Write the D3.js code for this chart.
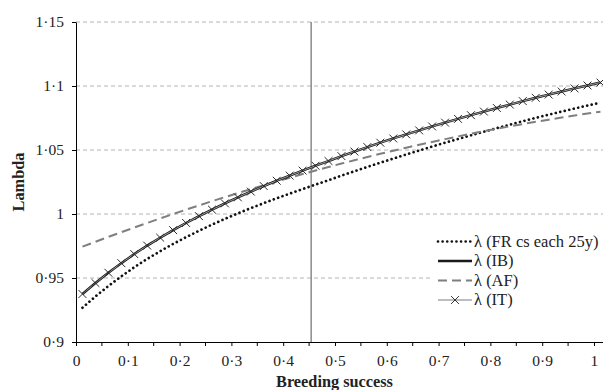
<!DOCTYPE html>
<html lang="en">
<head>
<meta charset="UTF-8">
<title>Lambda vs breeding success</title>
<script src="https://d3js.org/d3.v7.min.js"></script>
<style>
    body { margin: 0; background: #fff; }
    text { font-family: "Liberation Serif", "Times New Roman", serif; fill: #222; }
    .axis path, .axis line { stroke: #000; stroke-width: 1px; }
    .axis text { font-size: 15.5px; }
    .grid { stroke: #b4b4b4; stroke-width: 1px; stroke-dasharray: 4 3; }
    .title { font-size: 16.3px; font-weight: bold; }
    .legend text { font-size: 16.5px; }
</style>
</head>
<body>
<svg width="603" height="390"></svg>
<script>
    // breeding success (x) for each point
    const breeding = [0.0125,0.0375,0.0625,0.0875,0.1125,0.1375,0.1625,0.1875,0.2125,0.2375,
        0.2625,0.2875,0.3125,0.3375,0.3625,0.3875,0.4125,0.4375,0.4625,0.4875,
        0.5125,0.5375,0.5625,0.5875,0.6125,0.6375,0.6625,0.6875,0.7125,0.7375,
        0.7625,0.7875,0.8125,0.8375,0.8625,0.8875,0.9125,0.9375,0.9625,0.9875,1.0125];

    const lamFR = [0.9268,0.9356,0.9437,0.9513,0.9584,0.9649,0.9709,0.9766,0.9819,0.9869,
        0.9917,0.9962,1.0005,1.0046,1.0085,1.0123,1.0159,1.0195,1.0230,1.0264,
        1.0300,1.0334,1.0368,1.0401,1.0433,1.0465,1.0496,1.0527,1.0557,1.0586,
        1.0615,1.0643,1.0671,1.0698,1.0725,1.0751,1.0776,1.0800,1.0824,1.0847,1.0870];

    const lamIB = [0.9375,0.9461,0.9541,0.9616,0.9687,0.9753,0.9815,0.9874,0.9930,0.9983,
        1.0034,1.0083,1.0130,1.0175,1.0218,1.0260,1.0300,1.0339,1.0377,1.0414,
        1.0452,1.0488,1.0523,1.0557,1.0590,1.0622,1.0653,1.0684,1.0714,1.0743,
        1.0772,1.0800,1.0828,1.0855,1.0882,1.0908,1.0933,1.0957,1.0981,1.1004,1.1027];

    const lamAF = [0.9745,0.9783,0.9821,0.9858,0.9894,0.9930,0.9965,1.0000,1.0034,1.0067,
        1.0100,1.0132,1.0163,1.0194,1.0225,1.0254,1.0283,1.0312,1.0340,1.0367,
        1.0394,1.0420,1.0445,1.0470,1.0494,1.0518,1.0541,1.0563,1.0585,1.0606,
        1.0627,1.0647,1.0666,1.0685,1.0703,1.0720,1.0737,1.0754,1.0769,1.0785,1.0799];

    const lamIT = [0.9375,0.9461,0.9541,0.9616,0.9687,0.9753,0.9815,0.9874,0.9930,0.9983,
        1.0034,1.0083,1.0130,1.0175,1.0218,1.0260,1.0300,1.0339,1.0377,1.0414,
        1.0452,1.0488,1.0523,1.0557,1.0590,1.0622,1.0653,1.0684,1.0714,1.0743,
        1.0772,1.0800,1.0828,1.0855,1.0882,1.0908,1.0933,1.0957,1.0981,1.1004,1.1027];

    const xTicks = [0, 0.1, 0.2, 0.3, 0.4, 0.5, 0.6, 0.7, 0.8, 0.9, 1];
    const xMinorTicks = [0.05, 0.15, 0.25, 0.35, 0.45, 0.55, 0.65, 0.75, 0.85, 0.95];
    const yTicks = [0.9, 0.95, 1, 1.05, 1.1, 1.15];
    const threshold = 0.454;

    const legendLabels = ["λ (FR cs each 25y)", "λ (IB)", "λ (AF)", "λ (IT)"];

    const svg = d3.select("svg");
    const plotLeft = 76, plotRight = 603, plotTop = 22, plotBottom = 342;

    const x = d3.scaleLinear().domain([0, 1.0174]).range([plotLeft, plotRight]);
    const y = d3.scaleLinear().domain([0.9, 1.15]).range([plotBottom, plotTop]);

    const fmt = d => String(d).replace(".", "·");

    // gridlines
    svg.append("g").selectAll("line")
        .data(yTicks.slice(1))
        .enter().append("line")
        .attr("class", "grid")
        .attr("x1", plotLeft).attr("x2", plotRight)
        .attr("y1", d => y(d)).attr("y2", d => y(d));

    // axes
    svg.append("g")
        .attr("class", "axis")
        .attr("transform", `translate(${plotLeft},0)`)
        .call(d3.axisLeft(y).tickValues(yTicks).tickFormat(fmt).tickSize(4).tickPadding(8).tickSizeOuter(0));

    const xAxis = svg.append("g")
        .attr("class", "axis")
        .attr("transform", `translate(0,${plotBottom})`)
        .call(d3.axisBottom(x).tickValues(xTicks).tickFormat(fmt).tickSize(4).tickPadding(9).tickSizeOuter(0));
    xAxis.selectAll(".minor")
        .data(xMinorTicks)
        .enter().append("line")
        .attr("class", "minor")
        .attr("x1", d => x(d)).attr("x2", d => x(d))
        .attr("y1", 0).attr("y2", 4);
    svg.selectAll(".axis text").attr("fill", "#222");

    // vertical reference line
    svg.append("line")
        .attr("x1", x(threshold)).attr("x2", x(threshold))
        .attr("y1", y(1.15)).attr("y2", y(0.9))
        .attr("stroke", "#8a8a8a").attr("stroke-width", 1.5);

    const line = vals => d3.line()
        .x((d, i) => x(breeding[i]))
        .y(d => y(d))(vals);

    const styles = {
        FR: { stroke: "#111", width: 2.7, dash: "0.01 4.6", cap: "round" },
        IB: { stroke: "#1a1a1a", width: 2.4, dash: null, cap: "butt" },
        AF: { stroke: "#7f7f7f", width: 2, dash: "9 5", cap: "butt" },
        IT: { stroke: "#9a9a9a", width: 1, dash: null, cap: "butt" }
    };

    function drawSeries(vals, s) {
        svg.append("path")
            .attr("d", line(vals))
            .attr("fill", "none")
            .attr("stroke", s.stroke)
            .attr("stroke-width", s.width)
            .attr("stroke-dasharray", s.dash)
            .attr("stroke-linecap", s.cap);
    }

    drawSeries(lamFR, styles.FR);
    drawSeries(lamAF, styles.AF);
    drawSeries(lamIB, styles.IB);
    drawSeries(lamIT, styles.IT);

    // x markers for IT
    const cross = d3.symbol().type(d3.symbolX).size(42);
    svg.append("g").selectAll("path")
        .data(lamIT)
        .enter().append("path")
        .attr("d", cross)
        .attr("transform", (d, i) => `translate(${x(breeding[i])},${y(d)})`)
        .attr("fill", "none")
        .attr("stroke", "#2a2a2a")
        .attr("stroke-width", 1);

    // axis titles
    svg.append("text")
        .attr("class", "title")
        .attr("x", 334.5).attr("y", 387)
        .attr("text-anchor", "middle")
        .text("Breeding success");

    svg.append("text")
        .attr("class", "title")
        .attr("transform", "translate(24,182) rotate(-90)")
        .attr("text-anchor", "middle")
        .text("Lambda");

    // legend
    const legend = svg.append("g").attr("class", "legend");
    legend.append("rect")
        .attr("x", 432).attr("y", 229)
        .attr("width", 171).attr("height", 82)
        .attr("fill", "#fff");

    const keys = ["FR", "IB", "AF", "IT"];
    const rowY = [241.5, 261, 280.5, 300];
    keys.forEach((k, i) => {
        const s = styles[k];
        legend.append("line")
            .attr("x1", 438).attr("x2", 472)
            .attr("y1", rowY[i]).attr("y2", rowY[i])
            .attr("stroke", k === "IT" ? "#bdbdbd" : s.stroke)
            .attr("stroke-width", k === "IT" ? 2 : s.width)
            .attr("stroke-dasharray", s.dash)
            .attr("stroke-linecap", s.cap);
        if (k === "IT") {
            legend.append("path")
                .attr("d", cross)
                .attr("transform", `translate(455,${rowY[i]})`)
                .attr("fill", "none")
                .attr("stroke", "#333");
        }
        legend.append("text")
            .attr("x", 474).attr("y", rowY[i])
            .attr("dy", "0.33em")
            .text(legendLabels[i]);
    });
</script>
</body>
</html>
